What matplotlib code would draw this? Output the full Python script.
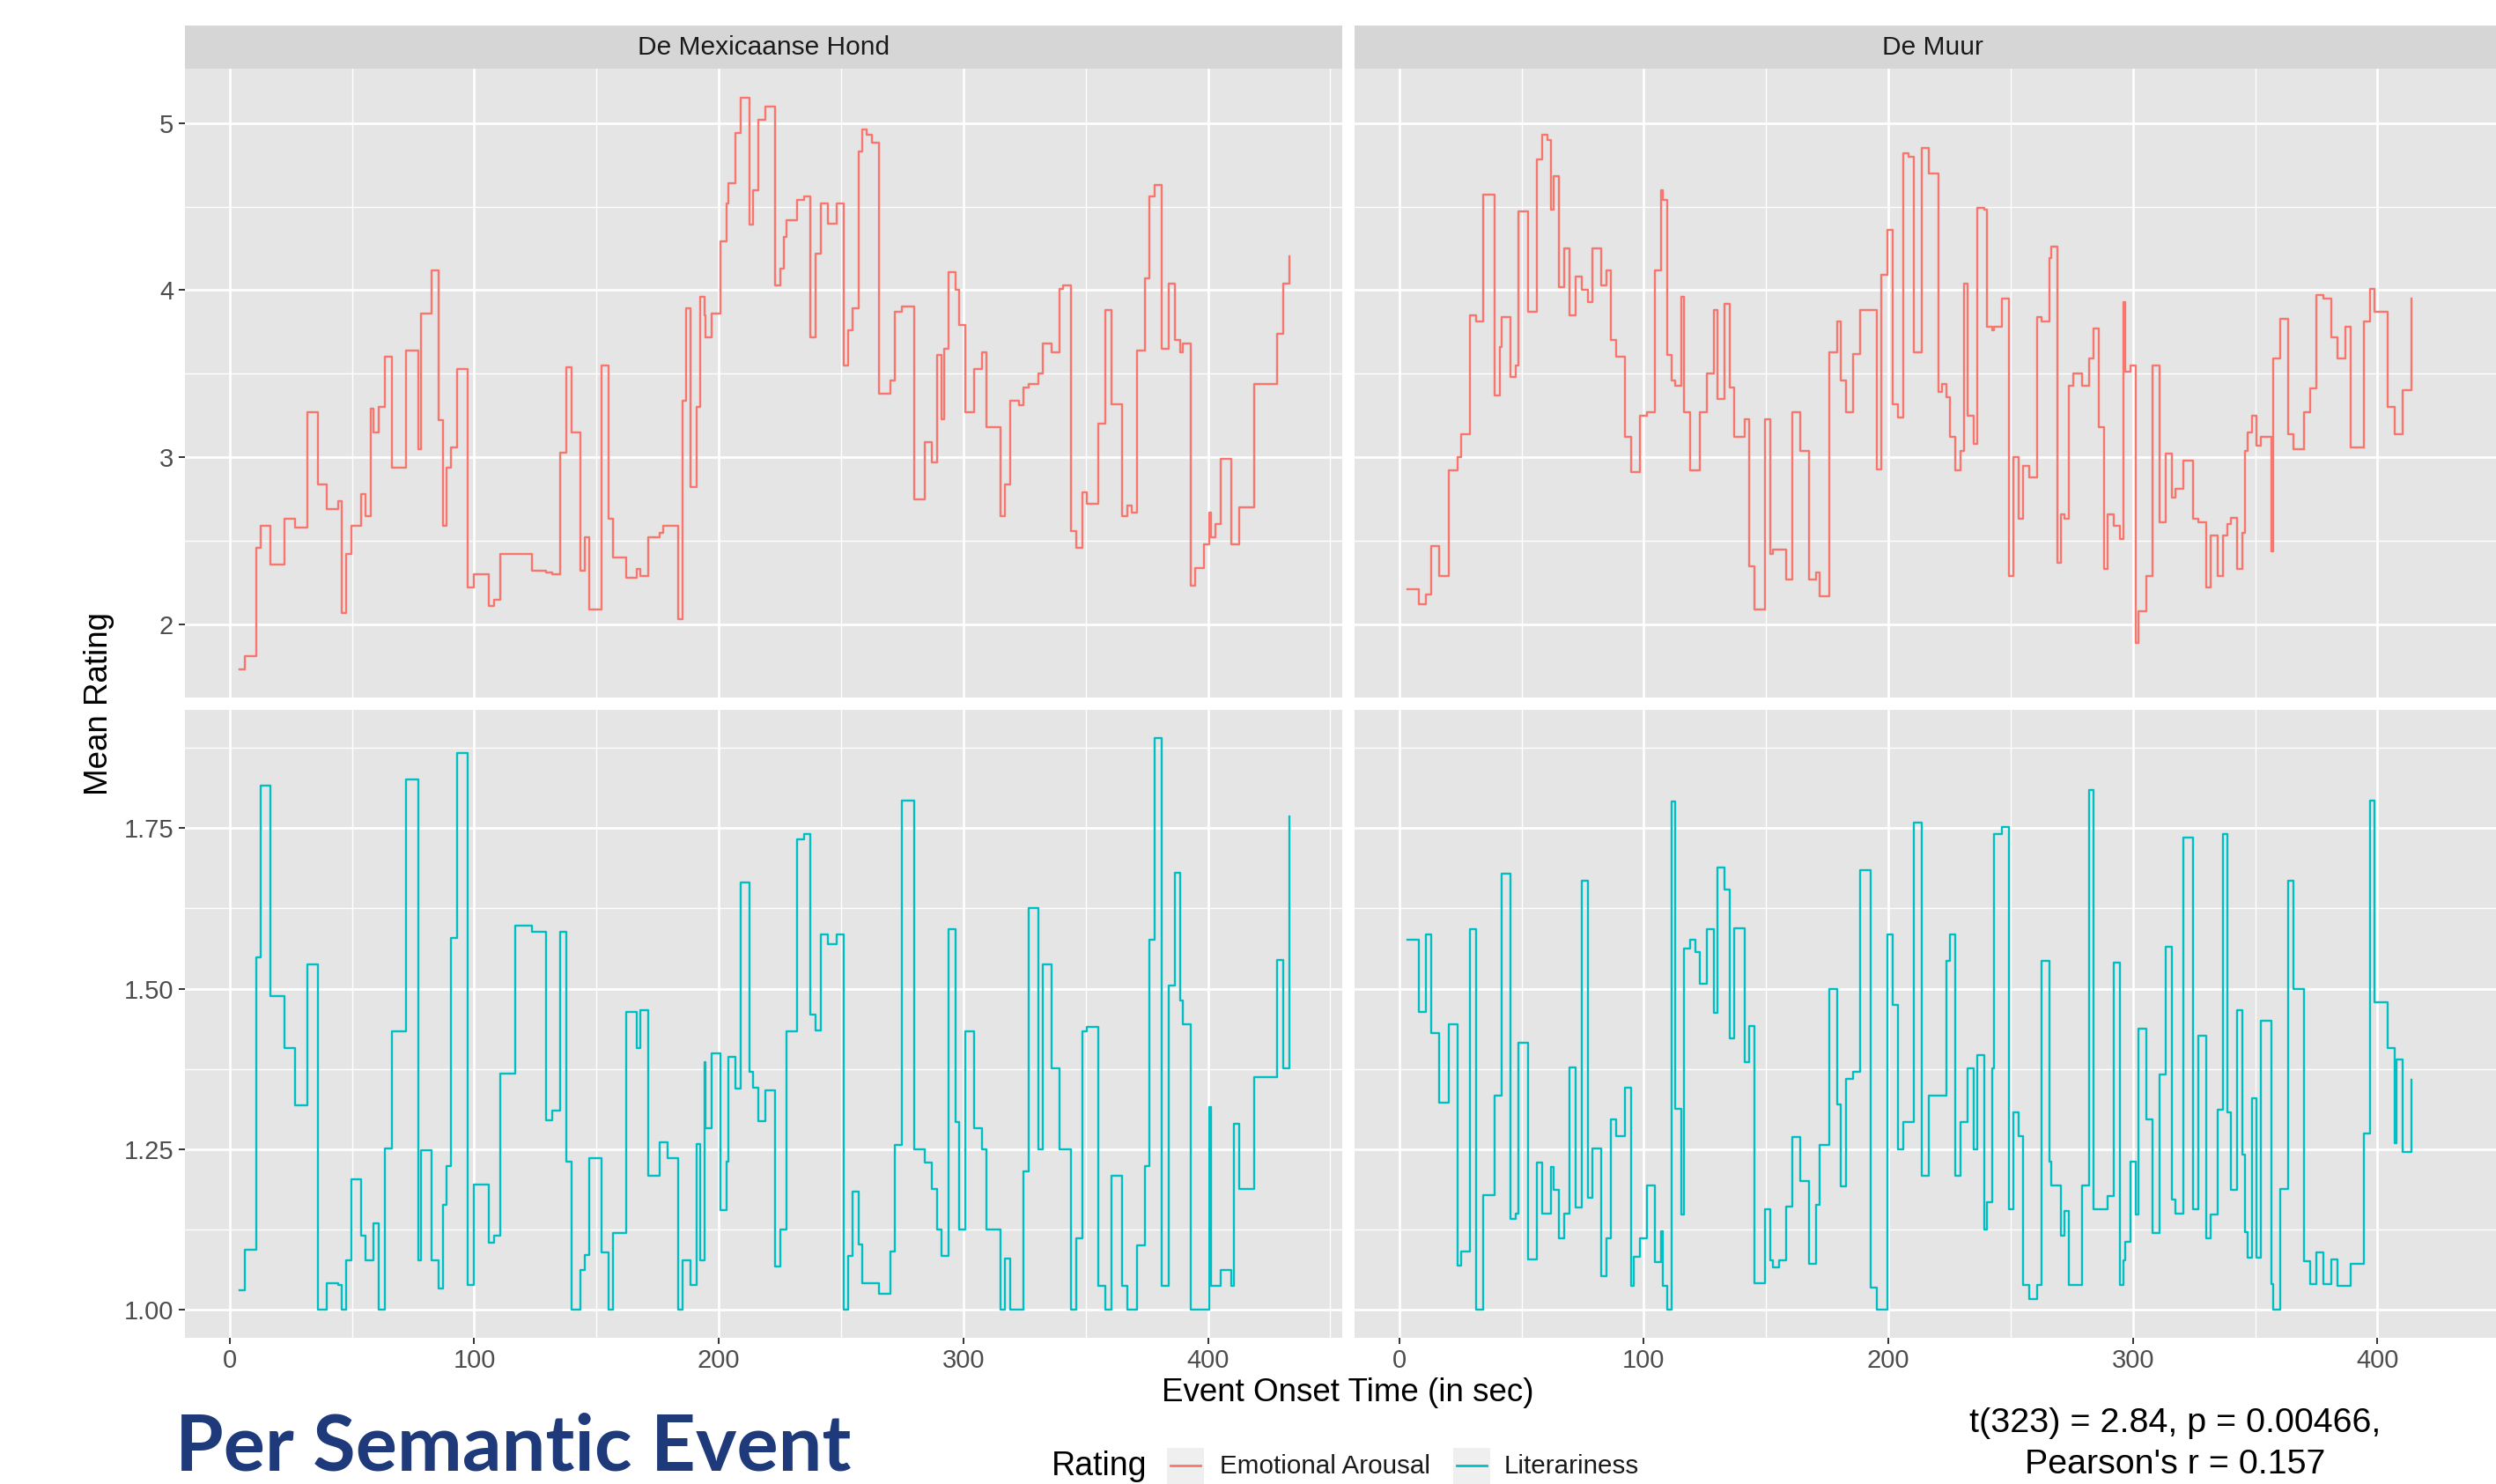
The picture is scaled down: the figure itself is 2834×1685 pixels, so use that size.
import matplotlib
matplotlib.use('Agg')
import matplotlib.pyplot as plt
from matplotlib.patches import Rectangle
from matplotlib.lines import Line2D

# ---------------- data ----------------
stories = ["De Mexicaanse Hond", "De Muur"]
ratings = ["Emotional Arousal", "Literariness"]

mex_time = [
    4.2, 6.3, 10.7, 12.5, 16.5, 22.4, 26.8, 31.7, 36.2, 39.8,
    44.2, 45.9, 47.6, 49.7, 53.8, 55.5, 57.7, 58.9, 60.8, 63.5,
    66.5, 72.1, 77.1, 78.1, 82.4, 85.3, 87.3, 88.7, 90.6, 92.8,
    97.2, 100.0, 105.8, 108.2, 110.5, 116.6, 123.5, 129.3, 132.0, 135.1,
    137.6, 139.8, 143.3, 145.1, 146.9, 152.0, 154.9, 156.7, 162.2, 166.5,
    167.7, 171.3, 175.9, 177.1, 179.0, 183.4, 185.0, 186.5, 188.4, 190.9,
    192.5, 194.0, 194.5, 197.2, 200.8, 203.1, 203.9, 206.7, 208.9, 212.7,
    214.1, 216.3, 219.1, 223.1, 225.3, 226.6, 227.8, 231.9, 234.7, 237.5,
    239.4, 241.6, 244.7, 248.1, 250.9, 252.8, 254.7, 257.2, 258.8, 260.3,
    262.5, 265.3, 270.0, 271.9, 275.0, 279.7, 284.1, 286.9, 289.4, 290.9,
    292.2, 293.8, 296.9, 298.4, 300.9, 304.4, 307.5, 309.4, 315.0, 316.9,
    319.1, 322.8, 324.4, 326.6, 330.6, 332.5, 335.9, 339.4, 340.9, 344.1,
    346.3, 348.8, 350.6, 355.0, 358.1, 360.6, 364.7, 366.9, 368.8, 370.9,
    374.1, 376.0, 378.1, 380.9, 383.8, 386.3, 388.8, 389.7, 392.8, 394.7,
    398.4, 400.6, 401.2, 403.1, 405.3, 409.4, 410.6, 412.8, 418.8, 428.4,
    430.6, 433.1]

mex_arousal = [
    1.73, 1.81, 2.46, 2.59, 2.36, 2.63, 2.58, 3.27, 2.84, 2.69,
    2.74, 2.07, 2.42, 2.59, 2.78, 2.65, 3.29, 3.15, 3.30, 3.60,
    2.94, 3.64, 3.05, 3.86, 4.12, 3.22, 2.59, 2.94, 3.06, 3.53,
    2.22, 2.30, 2.11, 2.15, 2.42, 2.42, 2.32, 2.31, 2.30, 3.03,
    3.54, 3.15, 2.32, 2.52, 2.09, 3.55, 2.63, 2.40, 2.28, 2.33,
    2.29, 2.52, 2.55, 2.59, 2.59, 2.03, 3.34, 3.89, 2.82, 3.30,
    3.96, 3.85, 3.72, 3.86, 4.29, 4.52, 4.64, 4.94, 5.15, 4.39,
    4.60, 5.02, 5.10, 4.03, 4.13, 4.32, 4.42, 4.54, 4.56, 3.72,
    4.22, 4.52, 4.40, 4.52, 3.55, 3.76, 3.89, 4.83, 4.96, 4.93,
    4.88, 3.38, 3.46, 3.87, 3.90, 2.75, 3.09, 2.97, 3.61, 3.23,
    3.65, 4.11, 4.00, 3.79, 3.27, 3.53, 3.63, 3.18, 2.65, 2.84,
    3.34, 3.31, 3.42, 3.44, 3.50, 3.68, 3.63, 4.01, 4.03, 2.56,
    2.46, 2.79, 2.72, 3.20, 3.88, 3.32, 2.65, 2.71, 2.67, 3.64,
    4.07, 4.56, 4.63, 3.65, 4.04, 3.70, 3.63, 3.68, 2.23, 2.34,
    2.48, 2.67, 2.52, 2.60, 2.99, 2.48, 2.48, 2.70, 3.44, 3.74,
    4.04, 4.20]

mex_literariness = [
    1.030, 1.094, 1.549, 1.816, 1.488, 1.408, 1.319, 1.538, 1.000, 1.041,
    1.038, 1.000, 1.077, 1.203, 1.116, 1.077, 1.077, 1.135, 1.000, 1.251,
    1.433, 1.825, 1.077, 1.249, 1.077, 1.033, 1.164, 1.224, 1.579, 1.867,
    1.038, 1.195, 1.105, 1.116, 1.368, 1.598, 1.588, 1.295, 1.310, 1.588,
    1.231, 1.000, 1.062, 1.085, 1.236, 1.089, 1.000, 1.119, 1.463, 1.407,
    1.466, 1.208, 1.261, 1.261, 1.236, 1.000, 1.077, 1.077, 1.038, 1.258,
    1.077, 1.386, 1.283, 1.399, 1.155, 1.231, 1.394, 1.345, 1.665, 1.370,
    1.346, 1.293, 1.341, 1.067, 1.125, 1.125, 1.434, 1.732, 1.741, 1.459,
    1.435, 1.584, 1.569, 1.584, 1.000, 1.084, 1.184, 1.102, 1.042, 1.042,
    1.042, 1.025, 1.091, 1.256, 1.793, 1.250, 1.229, 1.188, 1.125, 1.084,
    1.084, 1.593, 1.292, 1.125, 1.433, 1.283, 1.250, 1.125, 1.000, 1.080,
    1.000, 1.000, 1.215, 1.626, 1.250, 1.538, 1.376, 1.250, 1.250, 1.000,
    1.111, 1.433, 1.441, 1.037, 1.000, 1.209, 1.037, 1.000, 1.000, 1.100,
    1.224, 1.576, 1.890, 1.037, 1.505, 1.680, 1.482, 1.445, 1.000, 1.000,
    1.000, 1.316, 1.037, 1.037, 1.062, 1.037, 1.289, 1.188, 1.362, 1.545,
    1.376, 1.768]

muur_time = [
    3.5, 8.0, 10.8, 13.2, 16.4, 20.2, 23.9, 25.2, 28.9, 31.4,
    34.4, 39.1, 41.1, 41.8, 45.6, 47.6, 48.9, 52.6, 56.2, 58.5,
    60.6, 62.0, 63.2, 65.3, 67.4, 69.5, 72.3, 74.7, 77.3, 78.9,
    82.6, 84.7, 86.5, 88.6, 92.3, 94.7, 95.9, 98.3, 101.2, 104.7,
    107.0, 107.7, 109.7, 111.5, 112.9, 115.2, 116.5, 118.9, 121.1, 122.9,
    125.8, 128.6, 130.2, 133.0, 135.2, 137.1, 141.1, 142.9, 145.3, 149.4,
    151.7, 152.7, 155.3, 158.2, 160.8, 164.1, 167.4, 170.5, 172.0, 175.9,
    178.9, 180.5, 182.6, 185.6, 188.6, 192.9, 195.3, 197.1, 199.7, 201.8,
    204.1, 206.2, 208.3, 210.3, 213.8, 216.7, 220.6, 221.8, 223.7, 225.2,
    227.2, 229.5, 230.8, 232.5, 234.8, 236.5, 239.2, 240.4, 242.4, 243.2,
    246.5, 249.2, 251.1, 253.2, 255.2, 257.6, 260.7, 262.5, 265.7, 266.7,
    269.0, 270.4, 272.1, 273.7, 275.7, 279.2, 282.1, 283.9, 286.1, 288.2,
    289.7, 292.2, 294.6, 296.1, 297.0, 298.9, 301.0, 302.2, 305.3, 308.1,
    311.0, 313.5, 315.9, 317.4, 320.5, 324.4, 326.9, 329.9, 331.7, 334.5,
    336.9, 338.7, 340.0, 342.7, 344.8, 345.9, 347.0, 348.8, 350.6, 352.4,
    356.6, 357.3, 360.3, 363.4, 365.5, 370.1, 372.5, 375.0, 377.7, 381.1,
    383.5, 386.8, 389.0, 394.4, 396.9, 398.7, 404.0, 406.9, 407.8, 410.3,
    413.9]

muur_arousal = [
    2.21, 2.12, 2.18, 2.47, 2.29, 2.92, 3.00, 3.14, 3.85, 3.81,
    4.57, 3.37, 3.66, 3.84, 3.48, 3.55, 4.47, 3.87, 4.78, 4.93,
    4.90, 4.48, 4.68, 4.02, 4.25, 3.85, 4.08, 4.00, 3.93, 4.25,
    4.03, 4.12, 3.70, 3.60, 3.12, 2.91, 2.91, 3.25, 3.27, 4.12,
    4.60, 4.54, 3.61, 3.46, 3.43, 3.96, 3.27, 2.92, 2.92, 3.27,
    3.50, 3.88, 3.35, 3.92, 3.42, 3.12, 3.23, 2.35, 2.09, 3.23,
    2.42, 2.45, 2.45, 2.27, 3.27, 3.04, 2.27, 2.31, 2.17, 3.63,
    3.81, 3.46, 3.27, 3.62, 3.88, 3.88, 2.93, 4.09, 4.36, 3.32,
    3.24, 4.82, 4.80, 3.63, 4.85, 4.70, 3.39, 3.44, 3.36, 3.12,
    2.92, 3.04, 4.04, 3.25, 3.08, 4.49, 4.48, 3.78, 3.76, 3.78,
    3.95, 2.29, 3.00, 2.63, 2.95, 2.88, 3.84, 3.81, 4.19, 4.26,
    2.37, 2.66, 2.63, 3.43, 3.50, 3.43, 3.59, 3.77, 3.18, 2.33,
    2.66, 2.59, 2.51, 3.93, 3.51, 3.55, 1.89, 2.08, 2.29, 3.55,
    2.61, 3.02, 2.76, 2.81, 2.98, 2.63, 2.61, 2.22, 2.53, 2.29,
    2.53, 2.60, 2.64, 2.33, 2.55, 3.04, 3.15, 3.25, 3.07, 3.12,
    2.44, 3.59, 3.83, 3.14, 3.05, 3.27, 3.41, 3.97, 3.95, 3.72,
    3.59, 3.78, 3.06, 3.81, 4.01, 3.87, 3.30, 3.14, 3.14, 3.40,
    3.95]

muur_literariness = [
    1.576, 1.464, 1.584, 1.431, 1.322, 1.445, 1.069, 1.091, 1.593, 1.000,
    1.178, 1.334, 1.334, 1.679, 1.141, 1.149, 1.415, 1.078, 1.229, 1.149,
    1.149, 1.223, 1.187, 1.111, 1.149, 1.377, 1.159, 1.668, 1.174, 1.251,
    1.052, 1.111, 1.297, 1.271, 1.346, 1.037, 1.083, 1.111, 1.193, 1.074,
    1.122, 1.037, 1.000, 1.792, 1.313, 1.148, 1.562, 1.576, 1.557, 1.507,
    1.593, 1.462, 1.688, 1.654, 1.423, 1.594, 1.385, 1.442, 1.041, 1.156,
    1.077, 1.066, 1.077, 1.161, 1.269, 1.201, 1.072, 1.164, 1.256, 1.500,
    1.320, 1.192, 1.360, 1.371, 1.684, 1.035, 1.000, 1.000, 1.584, 1.474,
    1.250, 1.292, 1.292, 1.758, 1.209, 1.334, 1.334, 1.334, 1.543, 1.584,
    1.209, 1.292, 1.292, 1.376, 1.250, 1.396, 1.125, 1.167, 1.376, 1.740,
    1.751, 1.156, 1.308, 1.270, 1.038, 1.017, 1.038, 1.543, 1.231, 1.193,
    1.193, 1.116, 1.154, 1.038, 1.038, 1.193, 1.809, 1.156, 1.156, 1.156,
    1.177, 1.540, 1.038, 1.077, 1.106, 1.231, 1.148, 1.437, 1.297, 1.119,
    1.366, 1.565, 1.171, 1.149, 1.735, 1.156, 1.426, 1.111, 1.148, 1.312,
    1.741, 1.307, 1.186, 1.467, 1.241, 1.121, 1.081, 1.329, 1.081, 1.450,
    1.040, 1.000, 1.188, 1.668, 1.500, 1.075, 1.040, 1.089, 1.040, 1.078,
    1.037, 1.037, 1.071, 1.275, 1.793, 1.479, 1.407, 1.259, 1.390, 1.245,
    1.358]

x_ticks = [0, 100, 200, 300, 400]
x_minor = [50, 150, 250, 350, 450]
top_yticks = [2, 3, 4, 5]
top_yminor = [2.5, 3.5, 4.5]
bot_yticks = [1.00, 1.25, 1.50, 1.75]
bot_yminor = [1.125, 1.375, 1.625, 1.875]
stat_lines = ["t(323) = 2.84, p = 0.00466,", "Pearson's r = 0.157"]

# ---------------- style ----------------
W, H, DPI = 2834, 1685, 100
plt.rcParams['font.family'] = ['Liberation Sans', 'DejaVu Sans']
RED, TEAL = '#F8766D', '#00BFC4'
PANEL_BG = '#E5E5E5'
STRIP_BG = '#D6D6D6'

fig = plt.figure(figsize=(W / DPI, H / DPI), dpi=DPI)
fig.patch.set_facecolor('white')


def fx(px):
    return px / W


def fy(py):
    return 1 - py / H


col_x = [209.7, 1537.6]
col_w = 1313.8
rows = [(78.5, 792.0), (806.0, 1518.5)]
xlim = (-18.4, 454.7)
ylims = [(1.563, 5.322), (0.957, 1.934)]

series = {
    (0, 0): (mex_time, mex_arousal, RED),
    (0, 1): (muur_time, muur_arousal, RED),
    (1, 0): (mex_time, mex_literariness, TEAL),
    (1, 1): (muur_time, muur_literariness, TEAL),
}

for r, (ytop, ybot) in enumerate(rows):
    for c, x0 in enumerate(col_x):
        ax = fig.add_axes([fx(x0), fy(ybot), col_w / W, (ybot - ytop) / H])
        ax.set_facecolor(PANEL_BG)
        for s in ax.spines.values():
            s.set_visible(False)
        ax.set_xlim(*xlim)
        ax.set_ylim(*ylims[r])
        ax.set_xticks(x_ticks)
        ax.set_xticks(x_minor, minor=True)
        if r == 0:
            ax.set_yticks(top_yticks)
            ax.set_yticks(top_yminor, minor=True)
            ax.set_yticklabels([str(v) for v in top_yticks])
        else:
            ax.set_yticks(bot_yticks)
            ax.set_yticks(bot_yminor, minor=True)
            ax.set_yticklabels([f"{v:.2f}" for v in bot_yticks])
        ax.set_xticklabels([str(v) for v in x_ticks])
        ax.grid(which='major', color='white', linewidth=1.9)
        ax.grid(which='minor', color='white', linewidth=0.95)
        ax.set_axisbelow(True)
        ax.tick_params(which='minor', length=0)
        ax.tick_params(which='major', length=5, width=1.4, color='#333333',
                       labelsize=21, labelcolor='#4D4D4D', pad=4)
        if r == 0:
            ax.tick_params(axis='x', which='major', length=0, labelbottom=False)
        if c == 1:
            ax.tick_params(axis='y', which='major', length=0, labelleft=False)
        t, v, col = series[(r, c)]
        ax.step(t, v, where='post', color=col, linewidth=1.7)

# strips
for c, x0 in enumerate(col_x):
    sax = fig.add_axes([fx(x0), fy(78.5), col_w / W, 49.5 / H])
    sax.set_facecolor(STRIP_BG)
    sax.set_xticks([])
    sax.set_yticks([])
    for s in sax.spines.values():
        s.set_visible(False)
    sax.text(0.5, 0.5, stories[c], ha='center', va='center', fontsize=21.5,
             color='#1A1A1A', transform=sax.transAxes)

# axis titles
fig.text(fx(112), fy(798.5), 'Mean Rating', rotation=90, ha='center',
         va='center', fontsize=26.5, color='black')
fig.text(fx(1530.5), fy(1581), 'Event Onset Time (in sec)', ha='center',
         va='center', fontsize=26.5, color='black')

# legend
fig.text(fx(1194), fy(1665), 'Rating', ha='left', va='center', fontsize=27)
key_x = [1325, 1650]
text_x = [1385, 1708]
for i, (kx, tx) in enumerate(zip(key_x, text_x)):
    fig.patches.append(Rectangle((fx(kx), fy(1686.5)), 42 / W, 43 / H,
                                 transform=fig.transFigure, facecolor='#EFEFEF',
                                 edgecolor='none'))
    fig.lines.append(Line2D([fx(kx + 4), fx(kx + 38)], [fy(1664), fy(1664)],
                            transform=fig.transFigure,
                            color=[RED, TEAL][i], linewidth=2.0))
    fig.text(fx(tx), fy(1665), ratings[i], ha='left', va='center',
             fontsize=21.3, color='#1A1A1A')

# statistics annotation
fig.text(fx(2470), fy(1616), stat_lines[0], ha='center', va='center',
         fontsize=28.4, color='black')
fig.text(fx(2470), fy(1663), stat_lines[1], ha='center', va='center',
         fontsize=28.4, color='black')

# big title: width matched to the reference, kept fully inside the canvas
title = fig.text(fx(199), fy(1684), 'Per Semantic Event', ha='left',
                 va='bottom', fontsize=60, fontweight='bold',
                 color='#1F3A7A', family=['Lato', 'DejaVu Sans'])
fig.canvas.draw()
bb = title.get_window_extent()
title.set_fontsize(60 * 768 / bb.width)

fig.savefig('out.png', dpi=DPI)
